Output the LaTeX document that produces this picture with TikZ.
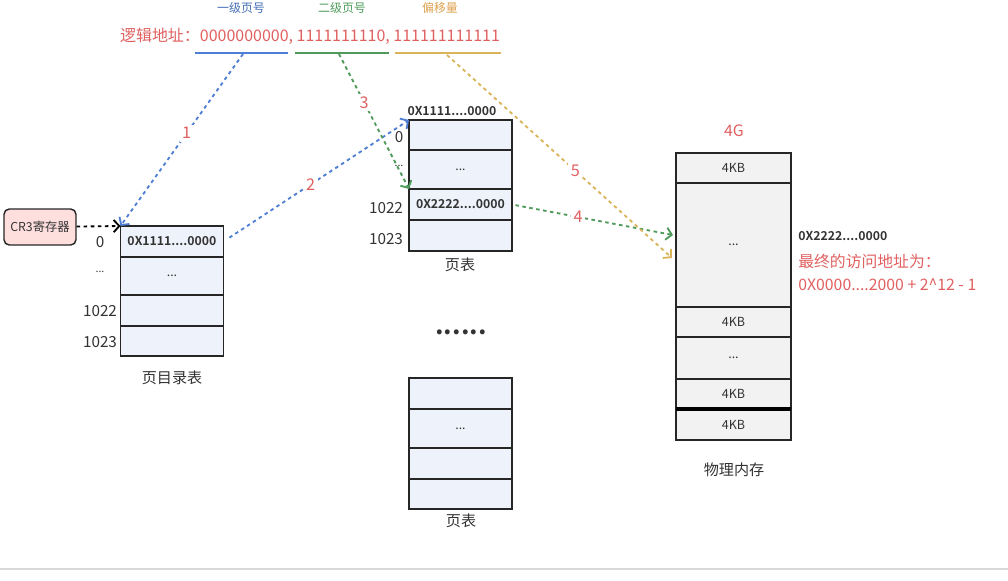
\documentclass[tikz,border=0pt]{standalone}
\usepackage{fontspec}
\setmainfont{Noto Sans CJK SC}[BoldFont={Noto Sans CJK SC Bold}]
\usetikzlibrary{arrows.meta}
\definecolor{pagefill}{HTML}{EEF2FB}
\definecolor{memfill}{HTML}{F2F2F2}
\definecolor{cregfill}{HTML}{FFDEDE}
\definecolor{numred}{HTML}{E06060}
\definecolor{lvone}{HTML}{4F7FD4}
\definecolor{lvtwo}{HTML}{4E9A5B}
\definecolor{offs}{HTML}{D9B45A}
\definecolor{inkgray}{HTML}{333333}
\tikzset{
  cell/.style={draw=black!85, thick, fill=pagefill, minimum width=2.06cm, inner sep=0pt, outer sep=0pt,
    text=inkgray, font=\fontsize{7}{7}\selectfont\bfseries},
  memcell/.style={draw=black!85, thick, fill=memfill, minimum width=2.3cm, inner sep=0pt, outer sep=0pt,
    text=inkgray, font=\fontsize{7.1}{7}\selectfont},
  idx/.style={text=inkgray, font=\fontsize{8.7}{9}\selectfont},
  caption/.style={text=inkgray, font=\fontsize{8.6}{9}\selectfont},
  link/.style={line width=1.05pt, dash pattern=on 2pt off 2pt, -{Straight Barb[length=3.2pt,width=7pt]}},
  stepnum/.style={fill=white, text=numred, inner sep=1.5pt, font=\fontsize{9.2}{10}\selectfont},
  underline/.style={line width=1.2pt}
}
\begin{document}
\begin{tikzpicture}[x=0.02cm, y=-0.02cm]
\useasboundingbox (0,0) rectangle (1008,581);
\draw[black!15, line width=0.6pt] (0,569) -- (1008,569);

\node (lbone) at (241,8) [text=lvone!85!black, font=\fontsize{6.8}{7}\selectfont] {一级页号};
\node (lbtwo) at (342,8) [text=lvtwo, font=\fontsize{6.8}{7}\selectfont] {二级页号};
\node (lboff) at (440,8) [text=offs!90!red, font=\fontsize{6.8}{7}\selectfont] {偏移量};
\node (vaddr) at (310,36) [text=numred, font=\fontsize{9.1}{10}\selectfont] {逻辑地址：0000000000, 1111111110, 111111111111};
\coordinate (ua) at (195,53);
\coordinate (ub) at (288,53);
\coordinate (uc) at (295,53);
\coordinate (ud) at (389,53);
\coordinate (ue) at (395,53);
\coordinate (uf) at (501,53);
\coordinate (uone) at (243,54);
\coordinate (utwo) at (339,54);
\coordinate (uoff) at (447,55);
\draw[underline, lvone] (ua) -- (ub);
\draw[underline, lvtwo] (uc) -- (ud);
\draw[underline, offs] (ue) -- (uf);

\node (cr3) at (40,227) [draw=black!85, thick, rounded corners=3pt, fill=cregfill, minimum width=1.44cm, minimum height=0.72cm,
  text=inkgray, font=\fontsize{7}{7}\selectfont] {CR3寄存器};

\node (pd0) at (172,241.5) [cell, minimum height=0.62cm] {0X1111....0000};
\node (pd1) at (172,276) [cell, minimum height=0.76cm, font=\fontsize{7}{7}\selectfont] {...};
\node (pd2) at (172,310.5) [cell, minimum height=0.62cm] {};
\node (pd3) at (172,341) [cell, minimum height=0.6cm] {};
\node (pdi0) at (100,242) [idx] {0};
\node (pdi1) at (100,272) [idx, font=\fontsize{6}{7}\selectfont] {...};
\node (pdi2) at (100,311) [idx] {1022};
\node (pdi3) at (100,342) [idx] {1023};
\node (pdcap) at (172,378) [caption] {页目录表};

\node (pt0) at (460.5,135) [cell, minimum height=0.6cm] {};
\node (pt1) at (460.5,169.5) [cell, minimum height=0.78cm, font=\fontsize{7}{7}\selectfont] {...};
\node (pt2) at (460.5,204.5) [cell, minimum height=0.62cm] {0X2222....0000};
\node (pt3) at (460.5,235.5) [cell, minimum height=0.62cm] {};
\node (pthead) at (452,111) [text=inkgray, font=\fontsize{7}{7}\selectfont\bfseries] {0X1111....0000};
\node (pti0) at (399,137) [idx] {0};
\node (pti1) at (399,166) [idx, font=\fontsize{6}{7}\selectfont] {...};
\node (pti2) at (386,208) [idx] {1022};
\node (pti3) at (386,239) [idx] {1023};
\node (ptcap) at (460,265) [caption] {页表};

\node (more) at (461,332) [text=inkgray, font=\fontsize{15}{15}\selectfont\bfseries] {......};

\node (pu0) at (460.5,393.5) [cell, minimum height=0.62cm] {};
\node (pu1) at (460.5,428.5) [cell, minimum height=0.78cm, font=\fontsize{7}{7}\selectfont] {...};
\node (pu2) at (460.5,463.5) [cell, minimum height=0.62cm] {};
\node (pu3) at (460.5,494) [cell, minimum height=0.6cm] {};
\node (pucap) at (461,521) [caption] {页表};

\node (memtop) at (734,131) [text=numred, font=\fontsize{9}{10}\selectfont] {4G};
\node (m0) at (733.5,168) [memcell, minimum height=0.6cm] {4KB};
\node (m1) at (733.5,245) [memcell, minimum height=2.48cm] {...};
\node (m2) at (733.5,322) [memcell, minimum height=0.6cm] {4KB};
\node (m3) at (733.5,358) [memcell, minimum height=0.84cm] {...};
\node (m4) at (733.5,394) [memcell, minimum height=0.6cm] {4KB};
\node (m5) at (733.5,424.5) [memcell, minimum height=0.62cm] {4KB};
\draw[black, line width=2.2pt] (m5.north west) -- (m5.north east);
\node (memcap) at (734,470) [caption] {物理内存};
\coordinate (mfour) at (673,235);
\coordinate (mfive) at (672,258);

\node (frame) at (798,236) [anchor=west, inner sep=0pt, text=inkgray, font=\fontsize{7}{7}\selectfont\bfseries] {0X2222....0000};
\node (final) at (798,261) [anchor=west, inner sep=0pt, text=numred, font=\fontsize{9}{10}\selectfont] {最终的访问地址为：};
\node (sum) at (798,285) [anchor=west, inner sep=0pt, text=numred, font=\fontsize{9}{10}\selectfont] {0X0000....2000 + 2\textasciicircum12 - 1};

\draw[link, black] (cr3) -- (pd0.north west);
\draw[link, lvone] (uone) -- (pd0.north west) node[stepnum, pos=0.46] {1};
\draw[link, lvone, shorten <=4pt] (pd0.east) -- (pt0.north west) node[stepnum, pos=0.47] {2};
\draw[link, lvtwo] (utwo) -- (pt2.north west) node[stepnum, pos=0.36] {3};
\draw[link, lvtwo, shorten <=2pt] (pt2.east) -- (mfour) node[stepnum, pos=0.41] {4};
\draw[link, offs] (uoff) -- (mfive) node[stepnum, pos=0.57] {5};
\end{tikzpicture}
\end{document}
